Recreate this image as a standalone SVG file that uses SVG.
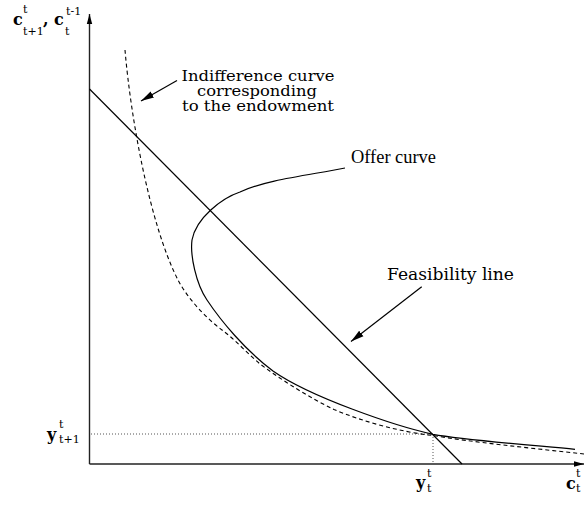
<svg xmlns="http://www.w3.org/2000/svg" width="584" height="506" viewBox="0 0 584 506">
<style>
.ln{fill:none;stroke:#000;stroke-width:1.2}
.ax{fill:none;stroke:#222;stroke-width:1.4}
.dash{fill:none;stroke:#000;stroke-width:1.1;stroke-dasharray:4 3}
.dot{fill:none;stroke:#555;stroke-width:1;stroke-dasharray:1 2}
.lbl{font-family:"DejaVu Serif",serif;font-size:15px;fill:#000}
.tm{font-family:"Liberation Serif",serif;font-size:18px;fill:#000}
.m{font-family:"DejaVu Serif",serif;font-size:16px;font-weight:bold;fill:#000}
.s{font-family:"DejaVu Serif",serif;font-size:11px;fill:#000}
</style>
<defs>
<marker id="ah" markerUnits="userSpaceOnUse" markerWidth="14" markerHeight="8" refX="13" refY="4" orient="auto">
<path d="M0,0.5 L13,4 L0,7.5 Z" fill="#000"/>
</marker>
<marker id="axh" markerUnits="userSpaceOnUse" markerWidth="11" markerHeight="7" refX="10" refY="3.5" orient="auto">
<path d="M0,0.8 L10,3.5 L0,6.2 Z" fill="#000"/>
</marker>
</defs>
<g id="connectors">
<line class="ax" x1="89.5" y1="464" x2="89.5" y2="14" marker-end="url(#axh)"/>
<line class="ax" x1="89.5" y1="464" x2="584" y2="464" marker-end="url(#axh)"/>
<line class="dot" x1="91" y1="434" x2="433" y2="434"/>
<line class="dot" x1="433" y1="434" x2="433" y2="463"/>
<line class="ln" x1="177" y1="80.5" x2="141" y2="101" marker-end="url(#ah)"/>
<line class="ln" x1="421.7" y1="286.7" x2="351" y2="341.5" marker-end="url(#ah)"/>
</g>
<g id="feasibility-line">
<line class="ln" x1="89.5" y1="89" x2="462" y2="464"/>
</g>
<g id="indifference-curve">
<path class="dash" d="M125,50 C131,120 150,225 178,280 C188,299 206,318 222,330 C235,339.5 248,354 260,364 C283,381 310,398 334,409.5 C361,421 400,432 433,435.5 C471,442 530,448 584,454"/>
</g>
<g id="offer-curve">
<path class="ln" d="M345,168 C310,175 265,180 240,192 C222,198 196,218 192,240 C190,255 196,284 207,300 C221,321 245,350 273,371 C310,397 395,426 433,434.3 C465,440 530,445 575,449.3"/>
</g>
<g id="label-indifference">
<text class="lbl" x="258" y="81" text-anchor="middle" textLength="153" lengthAdjust="spacingAndGlyphs">Indifference curve</text>
<text class="lbl" x="257" y="96" text-anchor="middle" textLength="120" lengthAdjust="spacingAndGlyphs">corresponding</text>
<text class="lbl" x="258" y="111" text-anchor="middle" textLength="152" lengthAdjust="spacingAndGlyphs">to the endowment</text>
</g>
<g id="label-offer">
<text class="tm" x="351" y="163" textLength="85" lengthAdjust="spacingAndGlyphs">Offer curve</text>
</g>
<g id="label-feasibility">
<text class="lbl" x="387" y="280" style="font-size:17px" textLength="127" lengthAdjust="spacingAndGlyphs">Feasibility line</text>
</g>
<g id="label-yaxis">
<text class="m" x="13" y="25">c</text>
<text class="s" x="23" y="13">t</text>
<text class="s" x="23" y="35">t+1</text>
<text class="m" x="43" y="25">,</text>
<text class="m" x="54" y="25">c</text>
<text class="s" x="66" y="15">t-1</text>
<text class="s" x="65" y="35">t</text>
</g>
<g id="label-ytt1">
<text class="m" x="47" y="440">y</text>
<text class="s" x="59" y="428">t</text>
<text class="s" x="59" y="443">t+1</text>
</g>
<g id="label-ytt">
<text class="m" x="416" y="488">y</text>
<text class="s" x="427" y="477">t</text>
<text class="s" x="427" y="492">t</text>
</g>
<g id="label-ctt">
<text class="m" x="566" y="489">c</text>
<text class="s" x="576" y="477">t</text>
<text class="s" x="576" y="492">t</text>
</g>
</svg>
